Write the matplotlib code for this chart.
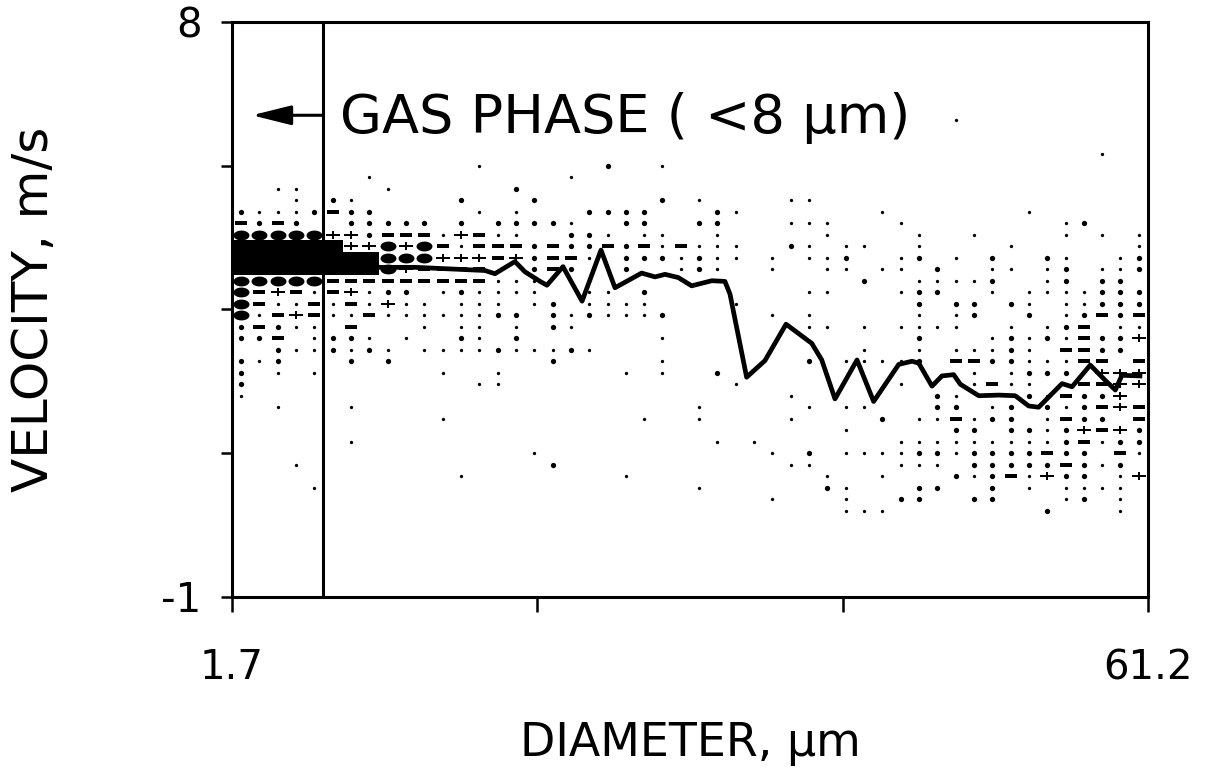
import numpy as np
import matplotlib
matplotlib.use("Agg")
import matplotlib.pyplot as plt

plt.rcParams['font.family'] = ['DejaVu Sans']

# size / velocity histogram, 50 diameter bins x 50 velocity bins
d_min, d_max = 1.7, 61.2
v_min, v_max = -1.0, 8.0
n_bins = 50
gas_cutoff = 7.6

# one symbol per cell, keyed by velocity bin (0 = fastest, top of the plot)
# blocks of ten diameter bins separated by '|'
# ' ' empty  '.' single  ':' few  '-' more  '+' many  'o' heavy  '#' saturated
histogram_rows = {
    8:  "          |          |          |         .|          ",
    11: "          |          |          |          |       .  ",
    12: "          |   .      |:  .      |          |          ",
    13: "       .  |        . |          |          |          ",
    14: "  ..    . |     :    |          |          |          ",
    15: "   . :.   |  :   :   |   : .    |..        |          ",
    16: ":...:-::  |   . .   :|:::   :.  |     .    |   .      ",
    17: "-:-:  ::::|: : ::::. | ::  ::   |...   .   |     .:   ",
    18: "ooooo++:--|-.+-..  ::|. ..  .   |  .    .  |.    . . .",
    19: "######++o+|o-.---:-::|-:-.-...  |:. ..  .  |  .      .",
    20: "########oo|o+++-+:--.| :::.:.. .| ..:  .: .| :  :.  .:",
    21: "########o+|----  :-: | :  .:.  .|  .. .. : | .. .: ..:",
    22: "ooooo-----|----...   |          |    :  ...|.:  .: :: ",
    23: "o-+-.-+.::| .:....  .|. :       | ..   .:: | . ....:::",
    24: "o-..-.-.+.|. ... .: .|...    .  |       : :|: :. ..:::",
    25: "o.-+-..-..|....:: :.:|...:     .| .     . .|:  : .:-:-",
    26: ":-:.. -   |. .. . :. |          | .. . ....|  . .:- ..",
    27: "::- .::. .|  :. :    |   .      |       :  | .:.:.-::+",
    28: "  :..:.:. |....:...:.|          |    .  . .|..:. --:: ",
    29: ":.:   : : |       :  |   .      | : ....: -|-::...-- -",
    30: ": . .     | .  .     | . .  :   |          |. .::: +++",
    31: ":         |   ..     |       .  |      .   |.-..  --++",
    32: ".         |          |          |.       :.|   :.-::+ ",
    33: "  .   .   |          |     .    | . ..   ::| .: :.:-+-",
    34: "          | .        |  .  .    |.    : ..-|.:: .-:: -",
    35: "          |          |          |   .     :|: ::.:+-+:",
    36: "      .   |          |      . . |      ....|.....:-.::",
    37: "          |      .   |         .| : ....::.|::::-:: -.",
    38: "   .      |       :  |          |..    ... |:::::-:.: ",
    39: "          |  .       | .        |  .  .   :|.:-.+:: .+",
    40: "    .     |          |     .    |  :.   :: | : . .... ",
    41: "          |          |         .|   .  ::  |::   .: . ",
    42: "          |          |          |   ...    |    :   . ",
}

# mean velocity for each size class
mean_diameter = [2.28, 6.12, 9.37, 11.31, 13.59, 18.13, 18.78, 20.08, 20.73, 21.71,
                 22.16, 23.20, 24.44, 25.67, 26.58, 28.31, 29.18, 29.83, 30.69, 31.56,
                 32.86, 33.72, 34.05, 35.13, 36.32, 37.69, 39.36, 40.01, 40.87, 42.30,
                 43.38, 45.01, 45.87, 46.31, 47.17, 47.82, 48.58, 49.01, 50.21, 51.51,
                 52.58, 53.45, 54.10, 55.62, 56.27, 57.45, 58.43, 59.08, 59.51, 60.68]
mean_velocity = [4.27, 4.24, 4.21, 4.16, 4.16, 4.11, 4.06, 4.25, 4.09, 3.94,
                 3.88, 4.17, 3.63, 4.43, 3.84, 4.07, 4.01, 4.05, 4.00, 3.87,
                 3.95, 3.94, 3.74, 2.44, 2.70, 3.27, 2.97, 2.71, 2.10, 2.71,
                 2.06, 2.64, 2.69, 2.66, 2.30, 2.46, 2.48, 2.33, 2.15, 2.16,
                 2.15, 1.99, 1.97, 2.34, 2.29, 2.63, 2.39, 2.24, 2.47, 2.46]

x_ticklabels = ['1.7', '', '', '61.2']
y_ticklabels = ['-1', '', '', '', '8']

# marker shapes, normalised by matplotlib to the marker size
t = np.linspace(0, 2 * np.pi, 25)
blob = list(zip(np.cos(t), 0.62 * np.sin(t)))
dash = [(-1, -0.32), (1, -0.32), (1, 0.32), (-1, 0.32)]
plus = [(-1, -0.22), (-0.16, -0.22), (-0.16, -0.6), (0.16, -0.6), (0.16, -0.22),
        (1, -0.22), (1, 0.22), (0.16, 0.22), (0.16, 0.6), (-0.16, 0.6),
        (-0.16, 0.22), (-1, 0.22)]
block = [(-1, -0.64), (1, -0.64), (1, 0.64), (-1, 0.64)]
symbol_style = {
    '.': ('o', 2.4),
    ':': ('o', 3.8),
    '-': (dash, 8.8),
    '+': (plus, 9.8),
    'o': (blob, 11.5),
    '#': (block, 13.8),
}

d_step = (d_max - d_min) / n_bins
v_step = (v_max - v_min) / n_bins
d_centers = d_min + (np.arange(n_bins) + 0.5) * d_step
v_centers = v_max - (np.arange(n_bins) + 0.5) * v_step

points = {k: ([], []) for k in symbol_style}
for row, text in histogram_rows.items():
    cells = ''.join(b[:10].ljust(10) for b in text.split('|'))
    for col, ch in enumerate(cells):
        if ch in points:
            points[ch][0].append(d_centers[col])
            points[ch][1].append(v_centers[row])

fig = plt.figure(figsize=(12.14, 7.69), dpi=100)
ax = fig.add_axes([0.1911, 0.2237, 0.7545, 0.7477])

for ch, (marker, size) in symbol_style.items():
    xs, ys = points[ch]
    ax.plot(xs, ys, ls='none', marker=marker, ms=size, mew=0, color='k')

ax.plot(mean_diameter, mean_velocity, color='k', lw=3.4, solid_joinstyle='round')

ax.axvline(gas_cutoff, color='k', lw=2.2)
ax.annotate('', xy=(3.0, 6.54), xytext=(gas_cutoff, 6.54),
            arrowprops=dict(arrowstyle='-|>,head_length=1.2,head_width=0.3',
                            lw=2.2, color='k', mutation_scale=20,
                            shrinkA=0, shrinkB=0))
ax.text(8.7, 6.5, 'GAS PHASE ( <8 \u00b5m)', fontsize=39, va='center', ha='left')

ax.set_xlim(d_min, d_max)
ax.set_ylim(v_min, v_max)
ax.set_xticks(np.linspace(d_min, d_max, 4))
ax.set_xticklabels(x_ticklabels)
ax.set_yticks(np.linspace(v_min, v_max, 5))
ax.set_yticklabels(y_ticklabels)
ax.tick_params(axis='x', direction='out', length=11, width=1.8, pad=26, labelsize=29)
ax.tick_params(axis='y', direction='out', length=8, width=1.8, pad=14, labelsize=29)
for spine in ax.spines.values():
    spine.set_linewidth(2.2)

ax.set_xlabel('DIAMETER, \u00b5m', fontsize=33)
ax.xaxis.set_label_coords(0.5, -0.215)
ax.set_ylabel('VELOCITY, m/s', fontsize=36)
ax.yaxis.set_label_coords(-0.19, 0.5)

fig.savefig('out.png', dpi=100)
